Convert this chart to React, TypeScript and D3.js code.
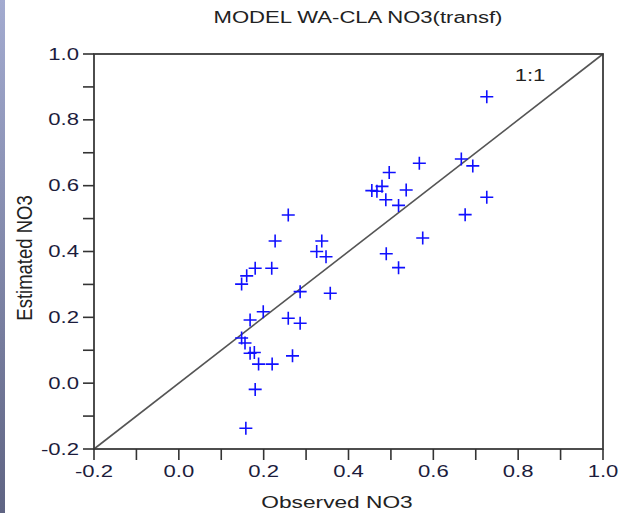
import React from "react";
import * as d3 from "d3";

const title = "MODEL WA-CLA NO3(transf)";
const xLabel = "Observed NO3";
const yLabel = "Estimated NO3";
const lineLabel = "1:1";

const observed = [
  0.726, 0.567, 0.666, 0.693, 0.496, 0.455, 0.467, 0.479, 0.488, 0.536,
  0.518, 0.726, 0.675, 0.575, 0.489, 0.518, 0.258, 0.227, 0.337, 0.325,
  0.347, 0.18, 0.219, 0.16, 0.148, 0.286, 0.357, 0.199, 0.168, 0.258,
  0.286, 0.148, 0.156, 0.168, 0.178, 0.188, 0.22, 0.18, 0.158, 0.268,
];
const estimated = [
  0.87, 0.668, 0.681, 0.66, 0.64, 0.585, 0.583, 0.598, 0.557, 0.587,
  0.54, 0.565, 0.512, 0.441, 0.393, 0.351, 0.511, 0.432, 0.432, 0.4,
  0.384, 0.349, 0.349, 0.326, 0.301, 0.278, 0.273, 0.217, 0.192, 0.197,
  0.182, 0.137, 0.122, 0.091, 0.093, 0.058, 0.058, -0.019, -0.137, 0.083,
];
const majorTicks = [-0.2, 0.0, 0.2, 0.4, 0.6, 0.8, 1.0];
const minorTicks = [-0.1, 0.1, 0.3, 0.5, 0.7, 0.9];
const domain: [number, number] = [-0.2, 1.0];

const W = 619;
const H = 513;
const L = 94, R = 603, T = 54, B = 449;
const FONT = "'Liberation Sans', Arial, sans-serif";
const SX = 1.38;

export default function App() {
  const x = d3.scaleLinear().domain(domain).range([L, R]);
  const y = d3.scaleLinear().domain(domain).range([B, T]);
  const fmt = (v: number) => d3.format(".1f")(v).replace("\u2212", "-");
  const allTicks = [...majorTicks, ...minorTicks];
  const pts = observed.map((o, i) => ({ o, e: estimated[i] }));
  const tickLen = 11;
  const cross = 6.5;

  return (
    <svg
      width={W}
      height={H}
      style={{ position: "absolute", left: 0, top: 0, background: "#fff" }}
      fontFamily={FONT}
    >
      <defs>
        <linearGradient id="strip" x1="0" y1="0" x2="0" y2="1">
          <stop offset="0" stopColor="#a3abd0" />
          <stop offset="1" stopColor="#5f6483" />
        </linearGradient>
      </defs>
      <rect x={0} y={0} width={W} height={H} fill="#fff" />
      <rect x={0} y={0} width={5} height={H} fill="url(#strip)" />

      <text
        transform={`translate(358,23) scale(${SX},1)`}
        textAnchor="middle"
        fontSize={16}
        fill="#222"
      >
        {title}
      </text>

      <line
        x1={x(domain[0])}
        y1={y(domain[0])}
        x2={x(domain[1])}
        y2={y(domain[1])}
        stroke="#555"
        strokeWidth={1.6}
      />

      {pts.map((p, i) => {
        const cx = x(p.o);
        const cy = y(p.e);
        return (
          <path
            key={i}
            d={`M${cx - cross},${cy}H${cx + cross}M${cx},${cy - cross}V${cy + cross}`}
            stroke="#1010ff"
            strokeWidth={1.6}
            fill="none"
          />
        );
      })}

      <rect x={L} y={T} width={R - L} height={B - T} fill="none" stroke="#3a3a3a" strokeWidth={1.8} />

      {allTicks.map((t, i) => (
        <g key={"t" + i} stroke="#333" strokeWidth={1.6}>
          <line x1={L - tickLen} x2={L} y1={y(t)} y2={y(t)} />
          <line x1={x(t)} x2={x(t)} y1={B} y2={B + tickLen} />
        </g>
      ))}

      {majorTicks.map((t, i) => (
        <text
          key={"yl" + i}
          transform={`translate(${L - 15},${y(t) + 5.5}) scale(${SX},1)`}
          textAnchor="end"
          fontSize={16}
          fill="#1c1c3c"
        >
          {fmt(t)}
        </text>
      ))}

      {majorTicks.map((t, i) => (
        <text
          key={"xl" + i}
          transform={`translate(${x(t)},${B + 28}) scale(${SX},1)`}
          textAnchor="middle"
          fontSize={16}
          fill="#1c1c3c"
        >
          {fmt(t)}
        </text>
      ))}

      <text
        transform={`translate(337,508) scale(1.42,1)`}
        textAnchor="middle"
        fontSize={16}
        fill="#222"
      >
        {xLabel}
      </text>
      <text
        transform={`translate(32,258) rotate(-90) scale(1,1.2)`}
        textAnchor="middle"
        fontSize={18.5}
        fill="#222"
      >
        {yLabel}
      </text>

      <text
        transform={`translate(530,81) scale(${SX},1)`}
        textAnchor="middle"
        fontSize={16}
        fill="#222"
      >
        {lineLabel}
      </text>
    </svg>
  );
}
